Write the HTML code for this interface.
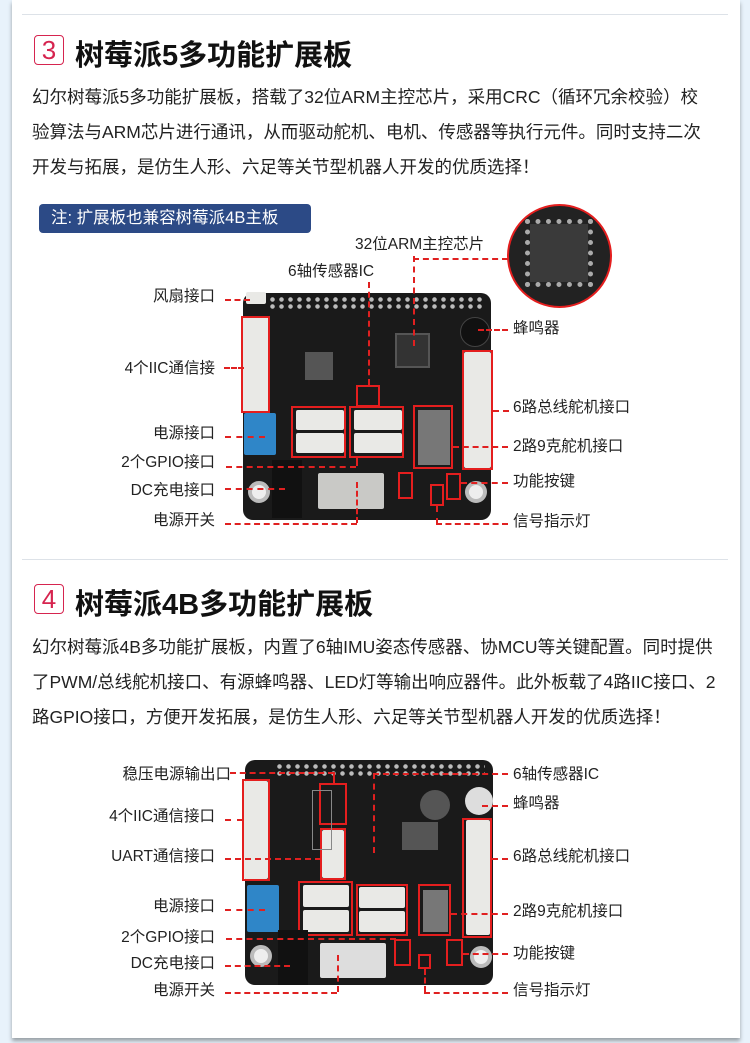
<!DOCTYPE html>
<html><head><meta charset="utf-8"><style>
*{margin:0;padding:0;box-sizing:border-box}
body{width:750px;height:1043px;background:#e8f2fb;position:relative;overflow:hidden;font-family:"Liberation Sans","Noto Sans CJK SC",sans-serif;color:#222}
.card{position:absolute;left:12px;top:0;width:728px;height:1038px;background:#fff;box-shadow:0 3px 4px rgba(0,0,0,.35)}
.sep{position:absolute;left:22px;width:706px;height:1px;background:#dde2e8}
.num{position:absolute;width:30px;height:30px;border:1.5px solid #d6244f;border-radius:4px;color:#d6244f;font-size:26px;text-align:center;line-height:28px}
.ttl{position:absolute;font-size:29px;font-weight:bold;color:#111;white-space:nowrap}
.p{position:absolute;left:32px;font-size:17.5px;line-height:35px;width:700px;color:#222;white-space:nowrap}
.l{position:absolute;font-size:15.5px;white-space:nowrap;line-height:18px;color:#222}
.r{text-align:right}
.h{position:absolute;border-top:2px dashed #e02020;height:0}
.v{position:absolute;border-left:2px dashed #e02020;width:0}
.bd{position:absolute;background:#1a1a1a;border-radius:10px}
.rb{position:absolute;border:2.5px solid #e41e1e}
.w{position:absolute;background:#e9e9e6;border-radius:2px}
.pins{position:absolute;height:14px;background-image:radial-gradient(circle,#bbb 2px,transparent 2.5px);background-size:9px 7px}
.blue{position:absolute;background:#2f86c8;border-radius:2px}
.hole{position:absolute;width:22px;height:22px;border-radius:50%;background:#eee;border:4px solid #bbb}
</style></head><body>
<div class="card"></div>
<div class="sep" style="top:14px"></div>
<div class="sep" style="top:559px"></div>

<div class="num" style="left:34px;top:35px">3</div>
<div class="ttl" style="left:75px;top:32px">树莓派5多功能扩展板</div>
<div class="p" style="top:80px">幻尔树莓派5多功能扩展板，搭载了32位ARM主控芯片，采用CRC（循环冗余校验）校<br>验算法与ARM芯片进行通讯，从而驱动舵机、电机、传感器等执行元件。同时支持二次<br>开发与拓展，是仿生人形、六足等关节型机器人开发的优质选择！</div>
<div style="position:absolute;left:39px;top:204px;width:272px;height:29px;background:#2c4a86;border-radius:4px;color:#fff;font-size:16.5px;line-height:29px;padding-left:12px">注: 扩展板也兼容树莓派4B主板</div>

<!-- board 1 -->
<div class="bd" style="left:243px;top:293px;width:248px;height:227px"></div>
<div class="pins" style="left:268px;top:296px;width:215px"></div>
<div class="w" style="left:246px;top:292px;width:20px;height:12px"></div>
<div class="w" style="left:242px;top:317px;width:27px;height:95px"></div>
<div class="rb" style="left:241px;top:316px;width:29px;height:97px"></div>
<div class="blue" style="left:244px;top:413px;width:32px;height:42px"></div>
<div style="position:absolute;left:305px;top:352px;width:28px;height:28px;background:#555"></div>
<div style="position:absolute;left:395px;top:333px;width:35px;height:35px;background:#333;border:2px solid #555"></div>
<div class="rb" style="left:356px;top:385px;width:24px;height:22px"></div>
<div class="w" style="left:296px;top:410px;width:48px;height:20px"></div>
<div class="w" style="left:296px;top:433px;width:48px;height:20px"></div>
<div class="rb" style="left:291px;top:406px;width:55px;height:52px"></div>
<div class="w" style="left:354px;top:410px;width:48px;height:20px"></div>
<div class="w" style="left:354px;top:433px;width:48px;height:20px"></div>
<div class="rb" style="left:349px;top:406px;width:55px;height:52px"></div>
<div style="position:absolute;left:418px;top:410px;width:32px;height:55px;background:#777"></div>
<div class="rb" style="left:413px;top:405px;width:40px;height:64px"></div>
<div class="w" style="left:464px;top:352px;width:27px;height:116px"></div>
<div class="rb" style="left:462px;top:350px;width:31px;height:120px"></div>
<div style="position:absolute;left:460px;top:317px;width:30px;height:30px;border-radius:50%;background:#111;border:1px solid #444"></div>
<div style="position:absolute;left:272px;top:460px;width:30px;height:58px;background:#111"></div>
<div class="w" style="left:318px;top:473px;width:66px;height:36px;background:#c9c9c6"></div>
<div class="rb" style="left:398px;top:472px;width:15px;height:27px"></div>
<div class="rb" style="left:446px;top:473px;width:15px;height:27px"></div>
<div class="rb" style="left:430px;top:484px;width:14px;height:22px"></div>
<div class="hole" style="left:248px;top:481px"></div>
<div class="hole" style="left:465px;top:481px"></div>
<!-- chip circle -->
<div style="position:absolute;left:507px;top:204px;width:105px;height:104px;border-radius:50%;background:#222;border:2px solid #e41e1e"></div>
<div style="position:absolute;left:530px;top:224px;width:58px;height:58px;background:#3a3a3a;outline:5px dotted #aaa"></div>

<!-- labels 1 -->
<div class="l r" style="right:535px;top:288px">风扇接口</div>
<div class="h" style="left:225px;top:299px;width:25px"></div>
<div class="l r" style="right:535px;top:360px">4个IIC通信接</div>
<div class="h" style="left:224px;top:367px;width:20px"></div>
<div class="l r" style="right:535px;top:425px">电源接口</div>
<div class="h" style="left:225px;top:436px;width:40px"></div>
<div class="l r" style="right:535px;top:454px">2个GPIO接口</div>
<div class="h" style="left:226px;top:466px;width:130px"></div>
<div class="v" style="left:356px;top:458px;height:8px"></div>
<div class="l r" style="right:535px;top:482px">DC充电接口</div>
<div class="h" style="left:225px;top:488px;width:60px"></div>
<div class="l r" style="right:535px;top:512px">电源开关</div>
<div class="h" style="left:225px;top:523px;width:132px"></div>
<div class="v" style="left:356px;top:482px;height:41px"></div>

<div class="l" style="left:355px;top:236px">32位ARM主控芯片</div>
<div class="v" style="left:413px;top:256px;height:90px"></div>
<div class="h" style="left:413px;top:258px;width:95px"></div>
<div class="l" style="left:288px;top:263px">6轴传感器IC</div>
<div class="v" style="left:368px;top:282px;height:103px"></div>
<div class="l" style="left:513px;top:320px">蜂鸣器</div>
<div class="h" style="left:478px;top:329px;width:30px"></div>
<div class="l" style="left:513px;top:399px">6路总线舵机接口</div>
<div class="h" style="left:493px;top:410px;width:16px"></div>
<div class="l" style="left:513px;top:438px">2路9克舵机接口</div>
<div class="h" style="left:453px;top:446px;width:55px"></div>
<div class="l" style="left:513px;top:473px">功能按键</div>
<div class="h" style="left:461px;top:482px;width:47px"></div>
<div class="l" style="left:513px;top:513px">信号指示灯</div>
<div class="v" style="left:436px;top:506px;height:18px"></div>
<div class="h" style="left:436px;top:523px;width:72px"></div>

<!-- section 4 -->
<div class="num" style="left:34px;top:584px">4</div>
<div class="ttl" style="left:75px;top:581px">树莓派4B多功能扩展板</div>
<div class="p" style="top:630px">幻尔树莓派4B多功能扩展板，内置了6轴IMU姿态传感器、协MCU等关键配置。同时提供<br>了PWM/总线舵机接口、有源蜂鸣器、LED灯等输出响应器件。此外板载了4路IIC接口、2<br>路GPIO接口，方便开发拓展，是仿生人形、六足等关节型机器人开发的优质选择！</div>

<!-- board 2 -->
<div class="bd" style="left:245px;top:760px;width:248px;height:225px"></div>
<div class="pins" style="left:275px;top:763px;width:210px"></div>
<div class="w" style="left:244px;top:781px;width:24px;height:98px"></div>
<div class="rb" style="left:242px;top:779px;width:28px;height:102px"></div>
<div class="blue" style="left:247px;top:885px;width:32px;height:47px"></div>
<div class="rb" style="left:319px;top:783px;width:28px;height:42px"></div>
<div class="w" style="left:322px;top:830px;width:22px;height:48px"></div>
<div class="rb" style="left:320px;top:828px;width:26px;height:52px"></div>
<div style="position:absolute;left:312px;top:790px;width:20px;height:60px;border:1px solid #888"></div>
<div style="position:absolute;left:420px;top:790px;width:30px;height:30px;border-radius:50%;background:#555"></div>
<div style="position:absolute;left:402px;top:822px;width:36px;height:28px;background:#555"></div>
<div style="position:absolute;left:465px;top:787px;width:28px;height:28px;border-radius:50%;background:#ddd"></div>
<div class="w" style="left:303px;top:885px;width:46px;height:22px"></div>
<div class="w" style="left:303px;top:910px;width:46px;height:22px"></div>
<div class="rb" style="left:298px;top:881px;width:55px;height:55px"></div>
<div class="w" style="left:359px;top:887px;width:46px;height:21px"></div>
<div class="w" style="left:359px;top:911px;width:46px;height:21px"></div>
<div class="rb" style="left:356px;top:884px;width:52px;height:52px"></div>
<div style="position:absolute;left:423px;top:890px;width:25px;height:42px;background:#777"></div>
<div class="rb" style="left:418px;top:884px;width:33px;height:52px"></div>
<div class="w" style="left:466px;top:820px;width:24px;height:115px"></div>
<div class="rb" style="left:462px;top:818px;width:30px;height:120px"></div>
<div style="position:absolute;left:278px;top:930px;width:30px;height:55px;background:#111"></div>
<div class="w" style="left:320px;top:943px;width:66px;height:35px;background:#ddd"></div>
<div class="rb" style="left:394px;top:939px;width:17px;height:27px"></div>
<div class="rb" style="left:446px;top:939px;width:17px;height:27px"></div>
<div class="rb" style="left:418px;top:954px;width:13px;height:15px"></div>
<div class="hole" style="left:250px;top:945px"></div>
<div class="hole" style="left:470px;top:946px"></div>

<!-- labels 2 -->
<div class="l r" style="right:519px;top:766px">稳压电源输出口</div>
<div class="h" style="left:230px;top:772px;width:104px"></div>
<div class="v" style="left:333px;top:772px;height:11px"></div>
<div class="l r" style="right:535px;top:808px">4个IIC通信接口</div>
<div class="h" style="left:225px;top:819px;width:18px"></div>
<div class="l r" style="right:535px;top:848px">UART通信接口</div>
<div class="h" style="left:225px;top:858px;width:96px"></div>
<div class="l r" style="right:535px;top:898px">电源接口</div>
<div class="h" style="left:225px;top:909px;width:40px"></div>
<div class="l r" style="right:535px;top:929px">2个GPIO接口</div>
<div class="h" style="left:226px;top:938px;width:170px"></div>
<div class="l r" style="right:535px;top:955px">DC充电接口</div>
<div class="h" style="left:225px;top:965px;width:65px"></div>
<div class="l r" style="right:535px;top:982px">电源开关</div>
<div class="h" style="left:225px;top:992px;width:112px"></div>
<div class="v" style="left:337px;top:955px;height:37px"></div>

<div class="l" style="left:513px;top:766px">6轴传感器IC</div>
<div class="h" style="left:373px;top:773px;width:135px"></div>
<div class="v" style="left:373px;top:773px;height:80px"></div>
<div class="l" style="left:513px;top:795px">蜂鸣器</div>
<div class="h" style="left:482px;top:805px;width:26px"></div>
<div class="l" style="left:513px;top:848px">6路总线舵机接口</div>
<div class="h" style="left:492px;top:858px;width:16px"></div>
<div class="l" style="left:513px;top:903px">2路9克舵机接口</div>
<div class="h" style="left:451px;top:913px;width:57px"></div>
<div class="l" style="left:513px;top:945px">功能按键</div>
<div class="h" style="left:463px;top:953px;width:45px"></div>
<div class="l" style="left:513px;top:982px">信号指示灯</div>
<div class="v" style="left:424px;top:969px;height:23px"></div>
<div class="h" style="left:424px;top:992px;width:84px"></div>
</body></html>
